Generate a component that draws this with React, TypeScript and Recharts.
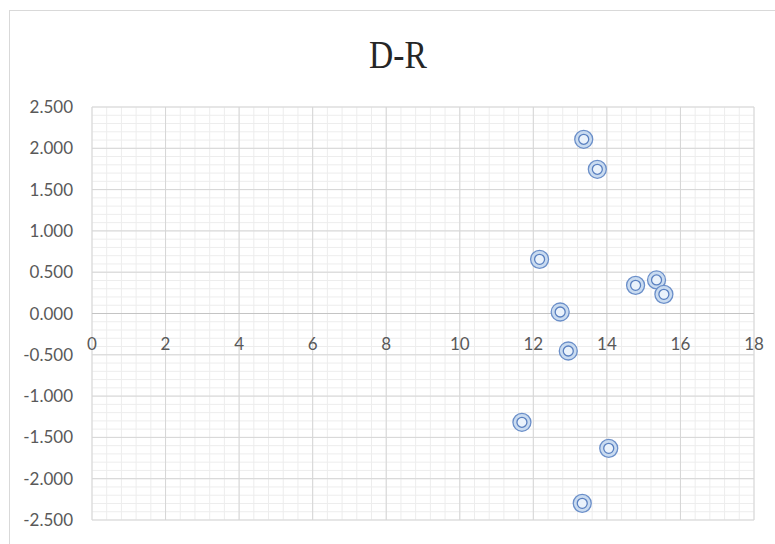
import React from "react";
import {
  ScatterChart,
  Scatter,
  XAxis,
  YAxis,
  CartesianGrid,
  ReferenceLine,
} from "recharts";

const xValues = [13.37, 13.74, 12.17, 12.73, 14.78, 15.35, 15.55, 12.95, 11.69, 14.05, 13.33];
const yValues = [2.109, 1.746, 0.656, 0.018, 0.341, 0.406, 0.232, -0.454, -1.317, -1.632, -2.298];

const xTicks = [0, 2, 4, 6, 8, 10, 12, 14, 16, 18];
const yTicks = [-2.5, -2, -1.5, -1, -0.5, 0, 0.5, 1, 1.5, 2, 2.5];

const minorX: number[] = [];
for (let i = 0; i <= 45; i++) minorX.push(Math.round(i * 0.4 * 100) / 100);
const minorY: number[] = [];
for (let i = 0; i <= 50; i++) minorY.push(Math.round((-2.5 + i * 0.1) * 100) / 100);

const data = xValues.map((x, i) => ({ x, y: yValues[i] }));

const W = 775;
const H = 544;
const PLOT_TOP = 107;
const PLOT_BOTTOM = 520;
const PLOT_RIGHT = 754;
const PLOT_LEFT = 92;
const X_AXIS_H = H - PLOT_BOTTOM;
const Y_MIN = -2.5;
const Y_MAX = 2.5;
const ZERO_Y = PLOT_TOP + ((Y_MAX - 0) / (Y_MAX - Y_MIN)) * (PLOT_BOTTOM - PLOT_TOP);

const labelFont = "Lato, 'Open Sans', sans-serif";

const XTick = (props: any) => {
  const { x, payload } = props;
  return (
    <text
      x={x}
      y={ZERO_Y + 36}
      textAnchor="middle"
      fontFamily={labelFont}
      fontSize={17}
      fill="#595959"
    >
      {payload.value}
    </text>
  );
};

const Marker = (props: any) => {
  const { cx, cy } = props;
  if (cx == null || cy == null) return null;
  return (
    <g>
      <circle cx={cx} cy={cy} r={9} fill="#c9dbf0" stroke="#6b8fc9" strokeWidth={1.3} />
      <circle cx={cx} cy={cy} r={5} fill="#eaf2fb" stroke="#5a80c0" strokeWidth={1.3} />
    </g>
  );
};

export default function App() {
  return (
    <div
      style={{
        position: "absolute",
        left: 0,
        top: 0,
        width: W,
        height: H,
        overflow: "hidden",
        background: "#ffffff",
      }}
    >
      <div
        style={{
          position: "absolute",
          left: 9,
          top: 10,
          width: 820,
          height: 600,
          border: "1px solid #d9d9d9",
          boxSizing: "border-box",
        }}
      />
      <div style={{ position: "absolute", left: 0, top: 0 }}>
        <ScatterChart
          width={W}
          height={H}
          margin={{ top: PLOT_TOP, right: W - PLOT_RIGHT, bottom: 0, left: PLOT_LEFT - 80 }}
        >
          <CartesianGrid
            stroke="#ededed"
            strokeWidth={1}
            horizontalValues={minorY}
            verticalValues={minorX}
          />
          <XAxis
            type="number"
            dataKey="x"
            domain={[0, 18]}
            ticks={xTicks}
            axisLine={false}
            tickLine={false}
            height={X_AXIS_H}
            tick={<XTick />}
            interval={0}
          />
          <YAxis
            type="number"
            dataKey="y"
            domain={[Y_MIN, Y_MAX]}
            ticks={yTicks}
            width={80}
            axisLine={false}
            tickLine={false}
            tickMargin={13}
            interval={0}
            tick={{ fontFamily: labelFont, fontSize: 17, fill: "#595959" }}
            tickFormatter={(v: number) => v.toFixed(3)}
          />
          <CartesianGrid stroke="#d6d6d6" strokeWidth={1} />
          <ReferenceLine y={0} stroke="#c4c4c4" strokeWidth={1} />
          <Scatter data={data} shape={<Marker />} isAnimationActive={false} />
        </ScatterChart>
      </div>
      <svg
        width={W}
        height={H}
        style={{ position: "absolute", left: 0, top: 0, pointerEvents: "none" }}
      >
        <text
          transform="translate(398,68) scale(0.84,1)"
          x={0}
          y={0}
          textAnchor="middle"
          fontFamily="'Liberation Serif', serif"
          fontSize={40}
          fill="#262626"
        >
          D-R
        </text>
      </svg>
    </div>
  );
}
